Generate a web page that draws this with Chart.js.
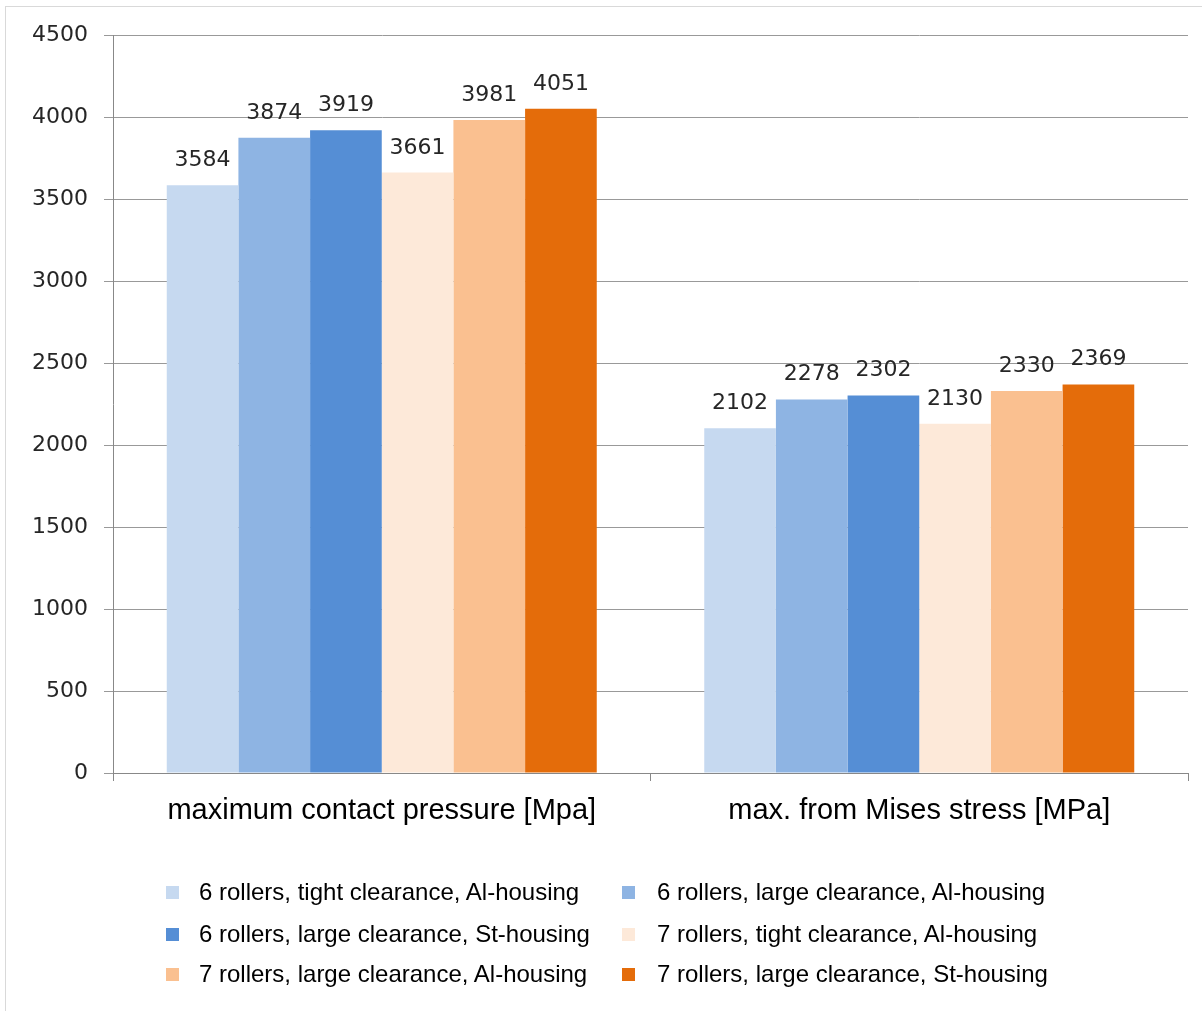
<!DOCTYPE html>
<html>
<head>
<meta charset="utf-8">
<script src="https://cdn.jsdelivr.net/npm/chart.js@4.4.1/dist/chart.umd.min.js"></script>
<style>
  html, body { margin: 0; padding: 0; background: #fff; }
  body { width: 1202px; height: 1011px; position: relative; overflow: hidden; }
  #frame { position: absolute; left: 5px; top: 6px; width: 1220px; height: 1020px;
           border: 1px solid #d9d9d9; box-sizing: border-box; }
  #chart { position: absolute; left: 0; top: 0; }
  #legend { position: absolute; left: 0; top: 0; width: 1202px; height: 1011px; pointer-events: none;
            font-family: "Liberation Sans", Arial, sans-serif; font-size: 24px; color: #000; }
  .item { position: absolute; height: 30px; line-height: 30px; white-space: nowrap; }
  .sw { position: absolute; width: 13px; height: 13px; top: 9px; }
  .txt { position: absolute; top: 0; }
</style>
</head>
<body>
<div id="frame"></div>
<canvas id="chart" width="1202" height="860"></canvas>
<div id="legend"></div>
<script>
// ── Data ────────────────────────────────────────────────────────────────
const categories = ["maximum contact pressure [Mpa]", "max. from Mises stress [MPa]"];
const seriesNames = [
  "6 rollers, tight clearance, Al-housing",
  "6 rollers, large clearance, Al-housing",
  "6 rollers, large clearance, St-housing",
  "7 rollers, tight clearance, Al-housing",
  "7 rollers, large clearance, Al-housing",
  "7 rollers, large clearance, St-housing",
];
const s6TightAl = [3584, 2102];
const s6LargeAl = [3874, 2278];
const s6LargeSt = [3919, 2302];
const s7TightAl = [3661, 2130];
const s7LargeAl = [3981, 2330];
const s7LargeSt = [4051, 2369];
const seriesValues = [s6TightAl, s6LargeAl, s6LargeSt, s7TightAl, s7LargeAl, s7LargeSt];
const yTicks = { min: 0, max: 4500, step: 500 };

const colors = ["#C6D9F0", "#8EB4E3", "#558ED5", "#FDE9D9", "#FAC090", "#E46C0A"];

// ── Value labels above bars ─────────────────────────────────────────────
const valueLabels = {
  id: "valueLabels",
  afterDatasetsDraw(chart) {
    const ctx = chart.ctx;
    ctx.save();
    ctx.font = "22px 'DejaVu Sans', sans-serif";
    ctx.fillStyle = "#262626";
    ctx.textAlign = "center";
    ctx.textBaseline = "alphabetic";
    chart.data.datasets.forEach((ds, i) => {
      chart.getDatasetMeta(i).data.forEach((bar, j) => {
        ctx.fillText(String(ds.data[j]), bar.x, bar.y - 19);
      });
    });
    ctx.restore();
  },
};

new Chart(document.getElementById("chart"), {
  type: "bar",
  data: {
    labels: categories,
    datasets: seriesValues.map((vals, i) => ({
      label: seriesNames[i],
      data: vals,
      backgroundColor: colors[i],
      borderWidth: 0,
      categoryPercentage: 0.8,
      barPercentage: 1.0,
    })),
  },
  options: {
    responsive: false,
    animation: false,
    devicePixelRatio: 1,
    layout: { padding: { left: 0, top: 35, right: 14, bottom: 27 } },
    plugins: { legend: { display: false }, tooltip: { enabled: false } },
    scales: {
      x: {
        offset: true,
        grid: { offset: true, drawOnChartArea: false, drawTicks: true, tickLength: 8, color: "#888" },
        border: { color: "#888" },
        ticks: {
          autoSkip: false, maxRotation: 0, padding: 13, color: "#000",
          font: { family: "'Liberation Sans', Arial, sans-serif", size: 29 },
        },
        afterFit(scale) { scale.height = 60; },
      },
      y: {
        min: yTicks.min,
        max: yTicks.max,
        grid: { color: "#999", tickLength: 9 },
        border: { color: "#888" },
        ticks: {
          stepSize: yTicks.step, padding: 16, color: "#262626",
          font: { family: "'DejaVu Sans', sans-serif", size: 22 },
          callback: v => String(v),
        },
        afterFit(scale) { scale.width = 113; },
      },
    },
  },
  plugins: [valueLabels],
});

// ── Legend (two columns, three rows) ────────────────────────────────────
const legend = document.getElementById("legend");
const colX = [166, 622];
const rowY = [877, 919, 959];
seriesNames.forEach((name, i) => {
  const item = document.createElement("div");
  item.className = "item";
  item.style.left = colX[i % 2] + "px";
  item.style.top = rowY[Math.floor(i / 2)] + "px";
  item.innerHTML = '<span class="sw" style="left:0;background:' + colors[i] + '"></span>' +
                   '<span class="txt" style="left:' + (i % 2 ? 35 : 33) + 'px">' + name + '</span>';
  legend.appendChild(item);
});
</script>
</body>
</html>
